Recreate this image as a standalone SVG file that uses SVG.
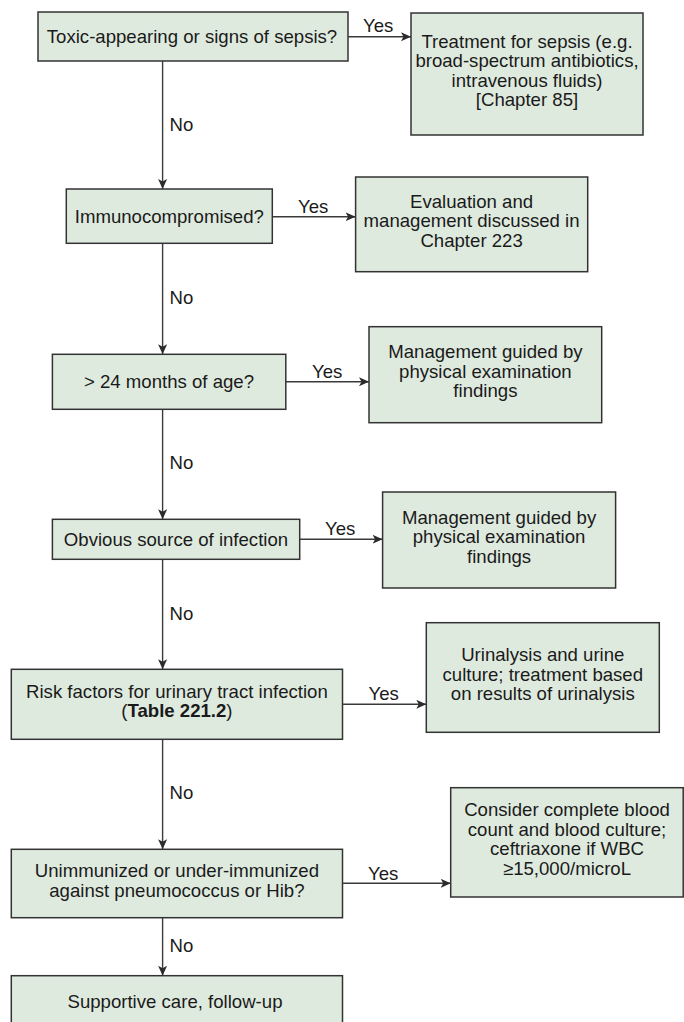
<svg xmlns="http://www.w3.org/2000/svg" width="684" height="1022" viewBox="0 0 684 1022">
<defs>
<marker id="ah" markerUnits="userSpaceOnUse" markerWidth="11" markerHeight="10" refX="10" refY="4.5" orient="auto">
<path d="M0,0 L10,4.5 L0,9 L2.5,4.5 Z" fill="#2b2b2b"/>
</marker>
<style>
.box{fill:#dfeadf;stroke:#333;stroke-width:1.5}
.t{font-family:"Liberation Sans",Arial,sans-serif;font-size:18.6px;fill:#1a1a1a;text-anchor:middle}
.lbl{font-family:"Liberation Sans",Arial,sans-serif;font-size:18.6px;fill:#1a1a1a}
.c{stroke:#3a3a3a;stroke-width:1.4;fill:none;marker-end:url(#ah)}
</style>
</defs>
<rect width="684" height="1022" fill="#fff"/>

<g id="n1"><rect class="box" x="38" y="12" width="310" height="49"/>
<text class="t" x="192" y="43">Toxic-appearing or signs of sepsis?</text></g>

<g id="n2"><rect class="box" x="411" y="13" width="232" height="122"/>
<text class="t" x="527" y="48">Treatment for sepsis (e.g.</text>
<text class="t" x="527" y="67.3">broad-spectrum antibiotics,</text>
<text class="t" x="527" y="86.6">intravenous fluids)</text>
<text class="t" x="527" y="106">[Chapter 85]</text></g>

<g id="n3"><rect class="box" x="66.3" y="189" width="206" height="54.3"/>
<text class="t" x="169.3" y="222.7">Immunocompromised?</text></g>

<g id="n4"><rect class="box" x="355.6" y="177" width="232.1" height="94.7"/>
<text class="t" x="471.6" y="207.8">Evaluation and</text>
<text class="t" x="471.6" y="227.3">management discussed in</text>
<text class="t" x="471.6" y="246.8">Chapter 223</text></g>

<g id="n5"><rect class="box" x="52.4" y="354.3" width="233.4" height="55"/>
<text class="t" x="169" y="388.3">&gt; 24 months of age?</text></g>

<g id="n6"><rect class="box" x="369" y="326.7" width="232.7" height="96"/>
<text class="t" x="485.4" y="358.2">Management guided by</text>
<text class="t" x="485.4" y="377.7">physical examination</text>
<text class="t" x="485.4" y="397.2">findings</text></g>

<g id="n7"><rect class="box" x="52.4" y="519.3" width="247.3" height="40"/>
<text class="t" x="176" y="545.8">Obvious source of infection</text></g>

<g id="n8"><rect class="box" x="382.6" y="492" width="233" height="96"/>
<text class="t" x="499.1" y="523.5">Management guided by</text>
<text class="t" x="499.1" y="543">physical examination</text>
<text class="t" x="499.1" y="562.5">findings</text></g>

<g id="n9"><rect class="box" x="11.3" y="669.3" width="331.2" height="70"/>
<text class="t" x="176.9" y="697.5">Risk factors for urinary tract infection</text>
<text class="t" x="176.9" y="717">(<tspan font-weight="bold">Table 221.2</tspan>)</text></g>

<g id="n10"><rect class="box" x="426.3" y="622.7" width="233" height="109.6"/>
<text class="t" x="542.8" y="661">Urinalysis and urine</text>
<text class="t" x="542.8" y="680.5">culture; treatment based</text>
<text class="t" x="542.8" y="700">on results of urinalysis</text></g>

<g id="n11"><rect class="box" x="11.3" y="849.3" width="331.2" height="68.4"/>
<text class="t" x="176.9" y="877">Unimmunized or under-immunized</text>
<text class="t" x="176.9" y="896.5">against pneumococcus or Hib?</text></g>

<g id="n12"><rect class="box" x="450.7" y="787.7" width="232.5" height="109.3"/>
<text class="t" x="567" y="816">Consider complete blood</text>
<text class="t" x="567" y="835.5">count and blood culture;</text>
<text class="t" x="567" y="855">ceftriaxone if WBC</text>
<text class="t" x="567" y="874.5">≥15,000/microL</text></g>

<g id="n13"><rect class="box" x="11.3" y="975.7" width="331.2" height="60"/>
<text class="t" x="175" y="1008">Supportive care, follow-up</text></g>

<g id="connectors">
<line class="c" x1="348" y1="36.7" x2="411" y2="36.7"/>
<line class="c" x1="272.3" y1="216.7" x2="355.6" y2="216.7"/>
<line class="c" x1="285.8" y1="381.7" x2="369" y2="381.7"/>
<line class="c" x1="299.7" y1="539.3" x2="382.6" y2="539.3"/>
<line class="c" x1="342.5" y1="704.3" x2="426.3" y2="704.3"/>
<line class="c" x1="342.5" y1="883.3" x2="450.7" y2="883.3"/>
<line class="c" x1="162.6" y1="61" x2="162.6" y2="189"/>
<line class="c" x1="162.6" y1="243.3" x2="162.6" y2="354.3"/>
<line class="c" x1="162.6" y1="409.3" x2="162.6" y2="519.3"/>
<line class="c" x1="162.6" y1="559.3" x2="162.6" y2="669.3"/>
<line class="c" x1="162.6" y1="739.3" x2="162.6" y2="849.3"/>
<line class="c" x1="162.6" y1="917.7" x2="162.6" y2="975.7"/>
<text class="lbl" x="363" y="32">Yes</text>
<text class="lbl" x="298" y="212.5">Yes</text>
<text class="lbl" x="312" y="377.5">Yes</text>
<text class="lbl" x="325" y="535">Yes</text>
<text class="lbl" x="368.5" y="700">Yes</text>
<text class="lbl" x="368" y="879.5">Yes</text>
<text class="lbl" x="169.5" y="131">No</text>
<text class="lbl" x="169.5" y="304">No</text>
<text class="lbl" x="169.5" y="469">No</text>
<text class="lbl" x="169.5" y="620.3">No</text>
<text class="lbl" x="169.5" y="799.3">No</text>
<text class="lbl" x="169.5" y="951.7">No</text>
</g>
</svg>
